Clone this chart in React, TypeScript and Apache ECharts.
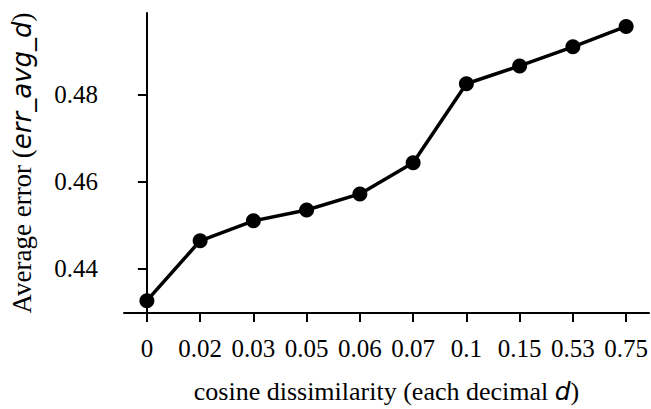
import React, { useEffect, useRef } from "react";
import * as echarts from "echarts";

const categories = ["0", "0.02", "0.03", "0.05", "0.06", "0.07", "0.1", "0.15", "0.53", "0.75"];
const avgError = [0.4326, 0.4464, 0.451, 0.4535, 0.4572, 0.4644, 0.4826, 0.4867, 0.4911, 0.4958];
const yTicks = [0.44, 0.46, 0.48];

export default function App() {
  const ref = useRef<HTMLDivElement>(null);
  useEffect(() => {
    if (!ref.current) return;
    const chart = echarts.init(ref.current, null, { renderer: "svg" });
    const idx = categories.map((_, i) => i);
    const serif = "Liberation Serif";
    chart.setOption({
      animation: false,
      backgroundColor: "#ffffff",
      grid: { left: 124, right: 0, top: 13, bottom: 87, containLabel: false },
      xAxis: {
        type: "value",
        min: -0.43,
        max: categories.length - 1 + 0.43,
        splitLine: { show: false },
        axisLine: { show: true, onZero: false, lineStyle: { color: "#000", width: 2 } },
        axisTick: { show: true, customValues: idx, length: 9, inside: false, lineStyle: { color: "#000", width: 2 } },
        axisLabel: {
          customValues: idx,
          formatter: (v: number) => categories[Math.round(v)],
          color: "#000",
          fontFamily: serif,
          fontSize: 25,
          margin: 23,
        },
        name: "cosine dissimilarity (each decimal {i|d})",
        nameLocation: "middle",
        nameGap: 65,
        nameTextStyle: {
          color: "#000",
          fontFamily: serif,
          fontSize: 26,
          rich: { i: { fontFamily: "DejaVu Sans", fontStyle: "italic", fontSize: 25, color: "#000" } },
        },
      },
      yAxis: {
        type: "value",
        min: 0.42975,
        max: 0.4989,
        splitLine: { show: false },
        axisLine: { show: true, lineStyle: { color: "#000", width: 2 } },
        axisTick: { show: true, customValues: yTicks, length: 9, lineStyle: { color: "#000", width: 2 } },
        axisLabel: {
          customValues: yTicks,
          formatter: (v: number) => v.toFixed(2),
          color: "#000",
          fontFamily: serif,
          fontSize: 25,
          margin: 26,
        },
        name: "Average error ({i|err_avg_d})",
        nameLocation: "middle",
        nameGap: 89,
        nameTextStyle: {
          color: "#000",
          fontFamily: serif,
          fontSize: 27,
          rich: { i: { fontFamily: "DejaVu Sans", fontStyle: "italic", fontSize: 26, color: "#000" } },
        },
      },
      series: [
        {
          type: "line",
          data: avgError.map((v, i) => [i, v]),
          symbol: "circle",
          symbolSize: 15,
          lineStyle: { color: "#000", width: 3.5 },
          itemStyle: { color: "#000" },
          clip: false,
        },
      ],
    });
    return () => chart.dispose();
  }, []);
  return <div ref={ref} style={{ position: "fixed", left: 0, top: 0, width: 651, height: 409 }} />;
}
